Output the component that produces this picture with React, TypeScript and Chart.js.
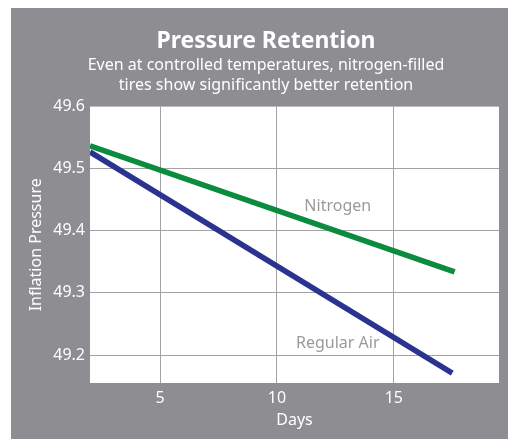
import React, { useEffect, useRef } from "react";
import { Chart, registerables } from "chart.js";

Chart.register(...registerables);

const chartTitle = "Pressure Retention";
const chartSubtitle = [
  "Even at controlled temperatures, nitrogen-filled",
  "tires show significantly better retention",
];
const xAxisTitle = "Days";
const yAxisTitle = "Inflation Pressure";

const nitrogenDays = [2, 17.6];
const nitrogenValues = [49.537, 49.334];
const airDays = [2, 17.5];
const airValues = [49.527, 49.171];

const xTicks = [5, 10, 15];
const yTicks = [49.2, 49.3, 49.4, 49.5, 49.6];

const seriesLabels = ["Nitrogen", "Regular Air"];
const labelDays = [12.6, 12.6];
const labelValues = [49.439, 49.218];

const FONT = "'Noto Sans', 'Open Sans', sans-serif";

export default function App() {
  const canvasRef = useRef<HTMLCanvasElement | null>(null);

  useEffect(() => {
    const canvas = canvasRef.current;
    if (!canvas) return;

    const plotBg = {
      id: "plotBg",
      beforeDraw(chart: any) {
        const { ctx, chartArea } = chart;
        ctx.save();
        ctx.fillStyle = "#ffffff";
        ctx.fillRect(
          chartArea.left,
          chartArea.top,
          chartArea.right - chartArea.left,
          chartArea.bottom - chartArea.top
        );
        ctx.restore();
      },
    };

    const seriesText = {
      id: "seriesText",
      afterDatasetsDraw(chart: any) {
        const { ctx, scales } = chart;
        ctx.save();
        ctx.fillStyle = "#9a9a9a";
        ctx.font = `16px ${FONT}`;
        ctx.textAlign = "center";
        ctx.textBaseline = "middle";
        seriesLabels.forEach((t, i) => {
          ctx.fillText(
            t,
            scales.x.getPixelForValue(labelDays[i]),
            scales.y.getPixelForValue(labelValues[i])
          );
        });
        ctx.restore();
      },
    };

    const chart = new Chart(canvas, {
      type: "line",
      data: {
        datasets: [
          {
            label: seriesLabels[0],
            data: nitrogenDays.map((d, i) => ({ x: d, y: nitrogenValues[i] })),
            borderColor: "#0b8b3e",
            borderWidth: 5.5,
            pointRadius: 0,
            tension: 0,
          },
          {
            label: seriesLabels[1],
            data: airDays.map((d, i) => ({ x: d, y: airValues[i] })),
            borderColor: "#2a3490",
            borderWidth: 5.5,
            pointRadius: 0,
            tension: 0,
          },
        ],
      },
      plugins: [plotBg, seriesText],
      options: {
        animation: false,
        responsive: false,
        maintainAspectRatio: false,
        layout: { padding: { left: 22, right: 9, top: 0, bottom: 0 } },
        plugins: {
          legend: { display: false },
          tooltip: { enabled: false },
          title: {
            display: true,
            text: chartTitle,
            color: "#ffffff",
            font: { family: FONT, size: 23, weight: "bold", lineHeight: 1.2 },
            padding: { top: 20, bottom: 0 },
          },
          subtitle: {
            display: true,
            text: chartSubtitle,
            color: "#ffffff",
            font: { family: FONT, size: 16, lineHeight: 1.25 },
            padding: { top: 0, bottom: 11 },
          },
        },
        scales: {
          x: {
            type: "linear",
            min: 2,
            max: 19.5,
            afterBuildTicks: (scale: any) => {
              scale.ticks = xTicks.map((v) => ({ value: v }));
            },
            afterFit: (scale: any) => {
              scale.height = 56;
            },
            grid: { color: "#a3a3a3", lineWidth: 1, drawTicks: false },
            border: { display: false },
            ticks: {
              color: "#ffffff",
              font: { family: FONT, size: 16 },
              padding: 6,
              maxRotation: 0,
            },
            title: {
              display: true,
              text: xAxisTitle,
              color: "#ffffff",
              font: { family: FONT, size: 16 },
              padding: { top: 0, bottom: 9 },
            },
          },
          y: {
            type: "linear",
            min: 49.155,
            max: 49.6,
            afterBuildTicks: (scale: any) => {
              scale.ticks = yTicks.map((v) => ({ value: v }));
            },
            afterFit: (scale: any) => {
              scale.width = 57;
            },
            grid: {
              color: (ctx: any) =>
                ctx.tick && ctx.tick.value >= 49.6 ? "rgba(0,0,0,0)" : "#a3a3a3",
              lineWidth: 1,
              drawTicks: false,
            },
            border: { display: false },
            ticks: {
              color: "#ffffff",
              font: { family: FONT, size: 16 },
              padding: 5,
              callback: (v: any) => Number(v).toFixed(1),
            },
            title: {
              display: true,
              text: yAxisTitle,
              color: "#ffffff",
              font: { family: FONT, size: 16 },
              padding: { top: -6, bottom: 0 },
            },
          },
        },
      },
    } as any);

    return () => chart.destroy();
  }, []);

  return (
    <div
      style={{
        position: "fixed",
        left: 0,
        top: 0,
        width: 508,
        height: 439,
        background: "#ffffff",
        overflow: "hidden",
      }}
    >
      <div
        style={{
          position: "absolute",
          left: 11,
          top: 8,
          width: 497,
          height: 431,
          background: "#8e8d92",
        }}
      >
        <canvas ref={canvasRef} width={497} height={431} style={{ display: "block" }} />
      </div>
    </div>
  );
}
